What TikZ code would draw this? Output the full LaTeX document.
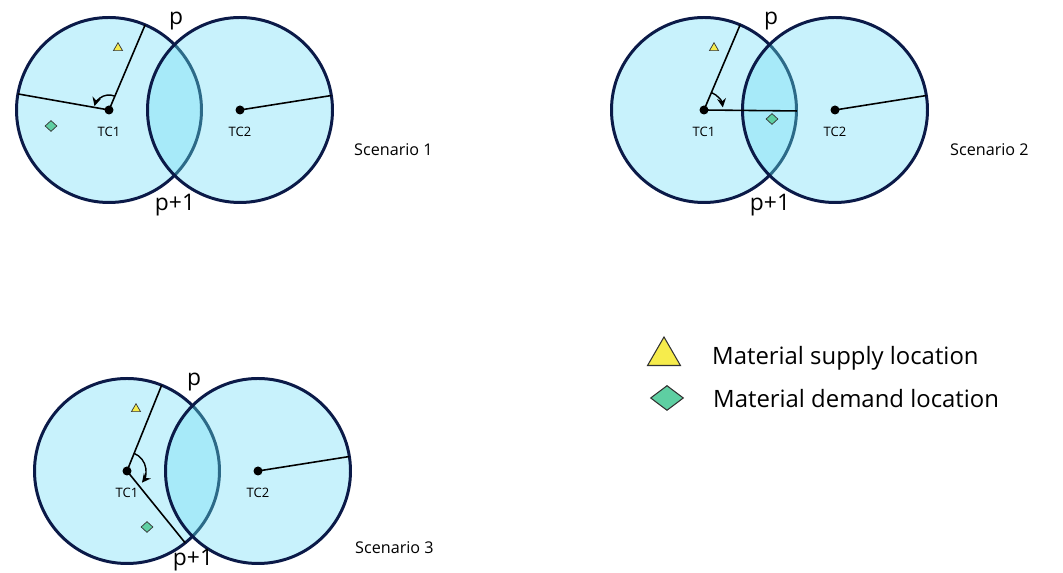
\documentclass[tikz,border=0pt]{standalone}
\usepackage{fontspec}
\setmainfont{Open Sans}
\usetikzlibrary{arrows.meta,shapes.geometric,calc}
\definecolor{diskfill}{HTML}{C8F2FC}
\definecolor{lensfill}{HTML}{A7EAF9}
\definecolor{rimnavy}{HTML}{0B1A48}
\definecolor{lensrim}{HTML}{2C6A88}
\definecolor{supplyyellow}{HTML}{F6EC4C}
\definecolor{demandgreen}{HTML}{5ECFA2}
\begin{document}
\begin{tikzpicture}[x=0.02cm,y=0.02cm,
  rim/.style={draw=rimnavy,line width=1.7pt},
  ray/.style={line width=0.9pt},
  turn/.style={line width=0.8pt,-{Stealth[length=5pt,width=5pt]}},
  supply/.style={regular polygon,regular polygon sides=3,draw=black!80,line width=0.4pt,
    fill=supplyyellow,inner sep=0pt,minimum size=0.21cm},
  demand/.style={diamond,draw=black!80,line width=0.4pt,fill=demandgreen,inner sep=0pt,
    minimum width=0.24cm,minimum height=0.22cm},
  tclabel/.style={font=\fontsize{7.4}{8}\selectfont},
  cutlabel/.style={font=\fontsize{13}{15}\selectfont,inner sep=1pt},
  caption/.style={font=\fontsize{9.2}{11}\selectfont,anchor=west},
  keytext/.style={font=\fontsize{13.6}{16}\selectfont,anchor=west}]
  \useasboundingbox (0,0) rectangle (1063,-573);

  % the two circles of each scenario
  \foreach \n/\cx/\cy/\py in {1/109/110/95,2/704/110/95,3/127/471/89}{
    \begin{scope}[shift={(\cx,-\cy)}]
      \coordinate (s\n-tc1) at (0,0);
      \coordinate (s\n-tc2) at (131,0);
      \fill[diskfill] (s\n-tc1) circle (92.5);
      \draw[rim] (s\n-tc1) circle (92.5);
      \fill[diskfill] (s\n-tc2) circle (92.5);
      \begin{scope}
        \clip (s\n-tc2) circle (92.5);
        \fill[lensfill] (s\n-tc1) circle (92.5);
        \draw[rim,draw=lensrim] (s\n-tc1) circle (92.5);
      \end{scope}
      \draw[rim] (s\n-tc2) circle (92.5);
      \node[cutlabel] (s\n-p) at (67,89) {p};
      \node[cutlabel] (s\n-pp) at (66,-\py) {p+1};
      \node[tclabel] (s\n-l1) at (0,-22) {TC1};
      \node[tclabel] (s\n-l2) at (131,-22) {TC2};
    \end{scope}
  }

  % scenario 1
  \draw[ray] (s1-tc1) -- +(67:92.5);
  \draw[ray] (s1-tc1) -- +(170:92.5);
  \draw[turn] ($(s1-tc1)+(67:15)$) arc (67:165:15);
  \draw[ray] (s1-tc2) -- +(9:92.5);
  \node[supply] (s1-sup) at (118,-48) {};
  \node[demand] (s1-dem) at (51,-126) {};
  \node[caption] (s1-cap) at (348,-150) {Scenario 1};

  % scenario 2
  \draw[ray] (s2-tc1) -- +(67:92.5);
  \draw[ray] (s2-tc1) -- +(-0.6:93);
  \draw[turn] ($(s2-tc1)+(67:19)$) arc (67:8:19);
  \draw[ray] (s2-tc2) -- +(9:92.5);
  \node[supply] (s2-sup) at (714,-48) {};
  \node[demand] (s2-dem) at (772,-119) {};
  \node[caption] (s2-cap) at (944,-150) {Scenario 2};

  % scenario 3
  \draw[ray] (s3-tc1) -- +(68:92.5);
  \draw[ray] (s3-tc1) -- +(-51:92.5);
  \draw[turn] ($(s3-tc1)+(68:19)$) arc (68:-38:19);
  \draw[ray] (s3-tc2) -- +(9:92.5);
  \node[supply] (s3-sup) at (136,-409) {};
  \node[demand] (s3-dem) at (147,-527) {};
  \node[caption] (s3-cap) at (349,-548) {Scenario 3};

  \foreach \n in {1,2,3}{
    \fill (s\n-tc1) circle (4.5);
    \fill (s\n-tc2) circle (4.5);
  }

  % legend
  \node[supply,minimum size=0.76cm,line width=0.6pt] (key-sup) at (664,-356) {};
  \node[demand,minimum width=0.66cm,minimum height=0.5cm,line width=0.6pt] (key-dem) at (667,-398) {};
  \node[keytext] (key-suptext) at (706,-358) {Material supply location};
  \node[keytext] (key-demtext) at (707,-399) {Material demand location};
\end{tikzpicture}
\end{document}
